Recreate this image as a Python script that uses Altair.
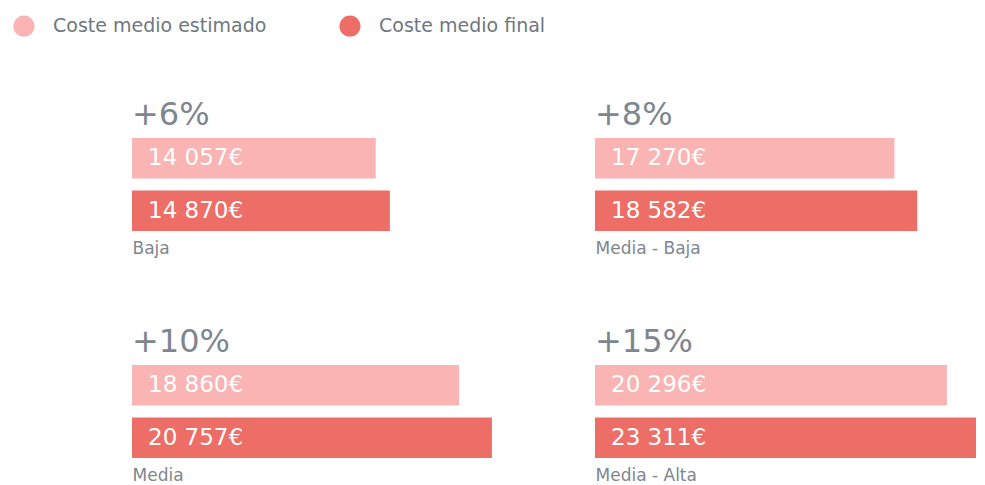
import altair as alt
import pandas as pd

categorias = ["Baja", "Media - Baja", "Media", "Media - Alta"]
coste_estimado = [14057, 17270, 18860, 20296]
coste_final = [14870, 18582, 20757, 23311]
incrementos = ["+6%", "+8%", "+10%", "+15%"]
series = ["Coste medio estimado", "Coste medio final"]
colores = ["#F9B4B3", "#EC6E67"]

FONT = "DejaVu Sans"
GREY = "#7E868F"


def fmt(v):
    return f"{v:,}".replace(",", " ") + "€"


rows = []
for cat, est, fin in zip(categorias, coste_estimado, coste_final):
    rows.append({"categoria": cat, "serie": series[0], "valor": est, "etiqueta": fmt(est)})
    rows.append({"categoria": cat, "serie": series[1], "valor": fin, "etiqueta": fmt(fin)})
df = pd.DataFrame(rows)

PX_PER_EUR = 0.01734
W = 381
H = 93
DOMAIN_MAX = W / PX_PER_EUR


def panel(cat, inc):
    base = alt.Chart(df).transform_filter(alt.datum.categoria == cat)
    bars = base.mark_bar(clip=True).encode(
        x=alt.X(
            "valor:Q",
            scale=alt.Scale(domain=[0, DOMAIN_MAX], nice=False, zero=True),
            axis=alt.Axis(
                title=cat, domain=False, ticks=False, labels=False, grid=False,
                titleAnchor="start", titleFontSize=17, titleFont=FONT,
                titleFontWeight="normal", titleColor=GREY, titlePadding=9.5,
            ),
        ),
        y=alt.Y("serie:N", sort=series,
                scale=alt.Scale(paddingInner=0.23, paddingOuter=0), axis=None),
        color=alt.Color(
            "serie:N", sort=series,
            scale=alt.Scale(domain=series, range=colores),
            legend=alt.Legend(
                title=None, orient="none", legendX=-119, legendY=-123,
                direction="horizontal", symbolType="circle", symbolSize=450,
                symbolStrokeWidth=0, labelFont=FONT, labelFontSize=19,
                labelColor="#6F7780", labelOffset=18, labelLimit=400,
                columnPadding=72, padding=0,
            ),
        ),
    )
    text = base.mark_text(align="left", baseline="middle", dx=16, color="white",
                          fontSize=23, font=FONT).encode(
        x=alt.datum(0),
        y=alt.Y("serie:N", sort=series),
        text="etiqueta:N",
    )
    return alt.layer(bars, text).properties(
        width=W, height=H,
        title=alt.TitleParams(inc, anchor="start", fontSize=32, font=FONT,
                              fontWeight="normal", color=GREY, offset=6),
    )


panels = [panel(c, i) for c, i in zip(categorias, incrementos)]
chart = alt.concat(*panels, columns=2, spacing={"row": 69, "column": 82}).properties(
    padding={"left": 5, "top": 7, "right": 0, "bottom": 0}
).configure_view(stroke=None)

chart.save("out.html", embed_options={"renderer": "svg", "actions": False})
